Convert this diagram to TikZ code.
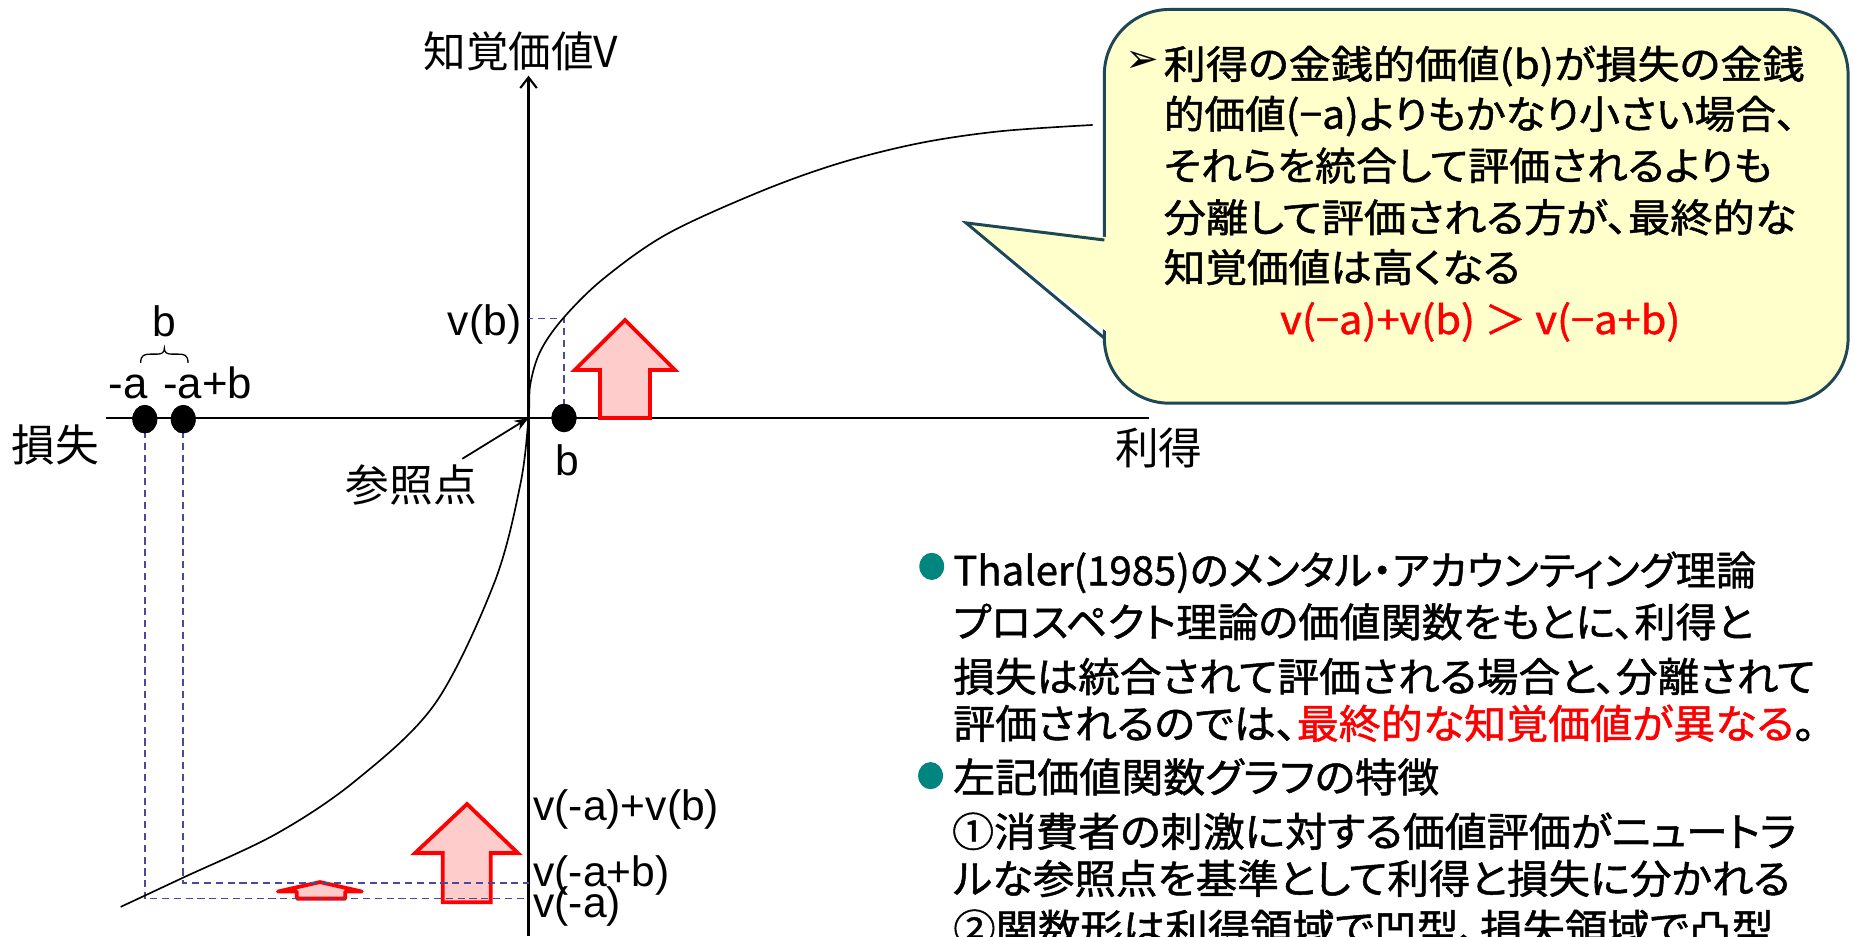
\documentclass[tikz,border=0pt]{standalone}
\usepackage{fontspec}
\usepackage{graphicx}
\setmainfont{Liberation Sans}
\newfontfamily\jp{Noto Sans CJK JP}
\newfontfamily\jpp{Noto Sans CJK JP}[RawFeature=+palt, FakeBold=1.2]
\newfontfamily\dejavu{DejaVu Sans}
\usetikzlibrary{arrows.meta,shapes.geometric}
\definecolor{guideblue}{HTML}{4A4A9C}
\definecolor{pinkfill}{HTML}{FFCCCC}
\definecolor{callfill}{HTML}{FFFFCC}
\definecolor{callline}{HTML}{1D4656}
\definecolor{tealdot}{HTML}{00857F}
\newcommand{\fitw}[2]{\resizebox{#1}{\height}{#2}}
\begin{document}
\begin{tikzpicture}[x=1pt,y=-1pt,
  axisline/.style={line width=1.8pt, black},
  curveline/.style={line width=1.4pt, black},
  guide/.style={guideblue, line width=1.4pt, dash pattern=on 6pt off 4pt},
  bigup/.style={draw=red, fill=pinkfill, line width=3.2pt, line join=miter},
  dotn/.style={ellipse, fill=black, minimum width=21pt, minimum height=24pt, inner sep=0pt},
  bulletn/.style={ellipse, fill=tealdot, minimum width=21pt, minimum height=23pt, inner sep=0pt},
  lat/.style={font=\fontsize{36}{40}\selectfont, inner sep=0pt},
  jpl/.style={font=\jp\fontsize{37}{40}\selectfont, inner sep=0pt},
  cline/.style={font=\jpp\fontsize{33}{40}\selectfont, inner sep=0pt, anchor=base west},
  rline/.style={font=\jpp\fontsize{34}{40}\selectfont, inner sep=0pt, anchor=base west},
  callout/.style={fill=callfill, draw=callline, line width=2.5pt}
]
\clip (0,0) rectangle (1568,792);
\fill[white] (0,0) rectangle (1568,792);

% coordinates
\coordinate (O) at (447,353.5);
\coordinate (ybot) at (447,792);
\coordinate (ytop) at (447,64);
\coordinate (xl) at (90,353.5);
\coordinate (xr) at (972,353.5);
\coordinate (ya) at (447,760);
\coordinate (yab) at (447,747);
\coordinate (yb) at (447,269.5);

% axes
\draw[axisline] (xl) -- (xr);
\draw[axisline, -{Straight Barb[length=9pt,width=14pt]}] (ybot) -- (ytop);

% red block arrows
\draw[bigup] (528.6,270.6) -- (571,313) -- (549.7,313) -- (549.7,353.5) -- (507.4,353.5) -- (507.4,313) -- (486,313) -- cycle;
\draw[bigup] (395,680) -- (438,721.5) -- (415,721.5) -- (415,763) -- (374.5,763) -- (374.5,721.5) -- (351,721.5) -- cycle;
\draw[bigup, line join=round] (270.6,746) -- (306,754) -- (292,754) -- (292,760) -- (251,760) -- (251,754) -- (235,754) -- cycle;

% dots (nodes)
\node[dotn] (da) at (122.5,354.5) {};
\node[dotn] (dab) at (155,354.5) {};
\node[dotn] (db) at (477,353.5) {};

% guides
\draw[guide] (da.center) |- (ya);
\draw[guide] (dab.center) |- (yab);
\draw[guide] (db.center) |- (yb);
\node[dotn] at (da) {};
\node[dotn] at (dab) {};
\node[dotn] at (db) {};

% value curve
\draw[curveline] plot[smooth, tension=0.55] coordinates {(102,767) (155.4,742) (234,705) (301,660) (368,595) (418,493) (440,410) (447,353.5) (448.5,325) (457,297) (476,269.5) (510,236) (564,198) (643,162) (710,138) (778,121) (846,111) (924,105.7)};

% axis labels
\node[jpl, font=\jp\fontsize{36}{40}\selectfont, anchor=west] (vlab) at (358,43.5) {知覚価値V};
\node[jpl] (loss) at (47,376) {損失};
\node[jpl] (gain) at (980,378.5) {利得};
\node[jpl] (ref) at (348,410) {参照点};
\coordinate (rs) at (391,388);
\draw[line width=1.5pt, -{Stealth[length=12pt,width=9pt]}] (rs) -- (O);

% latin labels
\node[lat, anchor=base] (lbtop) at (139,285) {b};
\draw[line width=1.1pt] (119,307) .. controls (119,300) and (122,299.5) .. (128,299.5) -- (133,299.5) .. controls (137,299.5) and (139,298) .. (139,294.5) .. controls (139,298) and (141,299.5) .. (145,299.5) -- (150,299.5) .. controls (156,299.5) and (159,300) .. (159,307);
\node[lat, font=\fontsize{37}{40}\selectfont, anchor=base] (lma) at (108.5,337) {-a};
\node[lat, font=\fontsize{37}{40}\selectfont, anchor=base west] (lmab) at (138,337) {-a+b};
\node[lat, anchor=base east] (lvb) at (441,284) {v(b)};
\node[lat, anchor=base] (lbb) at (480,402) {b};
\node[lat, anchor=base west] (lv1) at (451,694) {v(-a)+v(b)};
\node[lat, anchor=base west] (lv2) at (451,750) {v(-a+b)};
\node[lat, anchor=base west] (lv3) at (451,776) {v(-a)};

% callout
\draw[callout, rounded corners=55pt] (934,8) rectangle (1563,341);
\fill[callfill] (817,188.5) -- (945,201.5) -- (945,287.5) -- cycle;
\coordinate (tailA) at (934,203);
\coordinate (tailT) at (817,188.5);
\coordinate (tailB) at (934,286);
\draw[draw=callline, line width=2.5pt, line join=miter] (tailA) -- (tailT) -- (tailB);

\node[font=\dejavu\fontsize{34}{36}\selectfont, inner sep=0pt] (arw) at (966,52.5) {➢};
\node[cline] (c1) at (984,66.6) {\fitw{542pt}{利得の金銭的価値(b)が損失の金銭}};
\node[cline] (c2) at (984,108.8) {\fitw{535pt}{的価値(−a)よりもかなり小さい場合、}};
\node[cline] (c3) at (984,152.5) {\fitw{514.6pt}{それらを統合して評価されるよりも}};
\node[cline] (c4) at (984,196.3) {\fitw{535pt}{分離して評価される方が、最終的な}};
\node[cline] (c5) at (984,238.5) {\fitw{301.6pt}{知覚価値は高くなる}};
\node[cline, text=red] (c6) at (1082.5,282.5) {\fitw{338.5pt}{v(−a)+v(b) ＞ v(−a+b)}};

% right text
\node[bulletn] (bu1) at (788,479) {};
\node[bulletn] (bu2) at (787,656) {};
\node[rline] (r1) at (806,495) {\fitw{679pt}{Thaler(1985)のメンタル・アカウンティング理論}};
\node[rline] (r2) at (806,538.8) {\fitw{676.5pt}{プロスペクト理論の価値関数をもとに、利得と}};
\node[rline] (r3) at (806,585) {\fitw{729pt}{損失は統合されて評価される場合と、分離されて}};
\node[rline] (r4) at (806,624.7) {\fitw{729pt}{評価されるのでは、{\color{red}最終的な知覚価値が異なる}。}};
\node[rline] (r5) at (806,670) {\fitw{411pt}{左記価値関数グラフの特徴}};
\node[rline] (r6) at (805,716) {\fitw{714pt}{①消費者の刺激に対する価値評価がニュートラ}};
\node[rline] (r7) at (806,755.8) {\fitw{708pt}{ルな参照点を基準として利得と損失に分かれる}};
\node[rline] (r8) at (806,798) {\fitw{694pt}{②関数形は利得領域で凹型、損失領域で凸型}};
\end{tikzpicture}
\end{document}
